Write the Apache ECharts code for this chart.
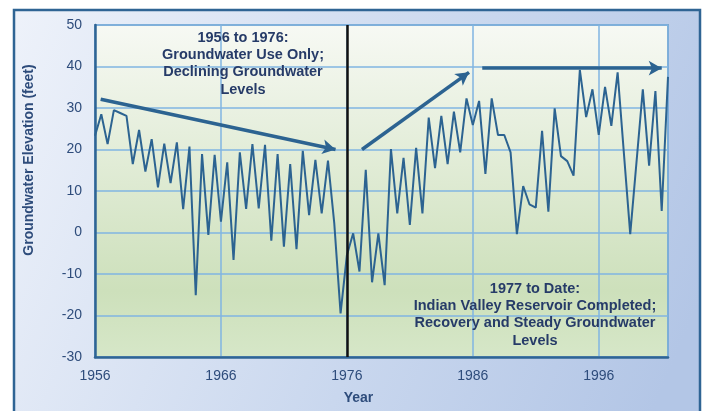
<!DOCTYPE html>
<html>
<head>
<meta charset="utf-8">
<title>Groundwater Elevation</title>
<script src="https://cdn.jsdelivr.net/npm/echarts@6/dist/echarts.min.js"></script>
<style>
	html, body {
		margin: 0;
		padding: 0;
		background: #ffffff;
	}

	#chart {
		width: 704px;
		height: 411px;
	}
</style>
</head>
<body>
<div id="chart"></div>
<script>
	// semiannual groundwater readings (feet), spring / fall, starting 1956
	const startYear = 1956;
	const levels = [
		23.3, 28.5, 21.3, 29.5, 28.8, 28.1, 16.5, 24.7, 14.7, 22.5,
		10.9, 21.4, 11.9, 21.7, 5.6, 20.7, -15.1, 18.9, -0.6, 18.7,
		2.6, 16.9, -6.6, 19.3, 5.7, 21.3, 5.8, 21.1, -2.0, 18.9,
		-3.4, 16.5, -4.0, 19.7, 4.2, 17.5, 4.6, 17.3, 2.2, -19.5,
		-5.5, -0.2, -9.4, 15.1, -12.0, -0.2, -12.7, 20.1, 4.6, 18.0,
		1.8, 20.4, 4.6, 27.7, 15.5, 28.1, 16.5, 29.1, 19.3, 32.3,
		25.9, 31.7, 14.1, 32.3, 23.5, 23.5, 19.3, -0.4, 11.2, 6.8,
		6.0, 24.5, 5.0, 29.9, 18.4, 17.2, 13.7, 39.2, 27.8, 34.5,
		23.5, 35.1, 25.7, 38.6, 19.0, -0.4, 17.0, 34.5, 16.1, 34.1,
		5.2, 37.5
	];
	// years since 1956 of each reading (two per year)
	const readingTimes = levels.map((_, i) => i / 2);

	const reservoirYear = 1976;
	// trend arrows: [fromYear, fromFeet, toYear, toFeet]
	const declineArrow = [1956.45, 32.1, 1975.1, 20.0];
	const recoveryArrow = [1977.2, 20.0, 1985.7, 38.6];
	const steadyArrow = [1986.75, 39.6, 2001.0, 39.6];

	const noteBefore = '1956 to 1976:\nGroundwater Use Only;\nDeclining Groundwater\nLevels';
	const noteAfter = '1977 to Date:\nIndian Valley Reservoir Completed;\nRecovery and Steady Groundwater\nLevels';

	const font = '"Liberation Sans", Arial, sans-serif';
	const lineBlue = '#2c6391';
	const inkBlue = '#2e4c7b';
	const noteInk = '#263b68';

	function arrow(a) {
		return [
			{ coord: [a[0] - startYear, a[1]] },
			{ coord: [a[2] - startYear, a[3]] }
		];
	}

	const chart = echarts.init(document.getElementById('chart'), null, { renderer: 'canvas' });

	const option = {
		animation: false,
		backgroundColor: '#ffffff',
		graphic: [{
				type: 'rect',
				z: -10,
				shape: { x: 14, y: 10, width: 686, height: 410 },
				style: {
					fill: {
						type: 'linear', x: 0, y: 0, x2: 1, y2: 0.7,
						colorStops: [
							{ offset: 0, color: '#eef2fa' },
							{ offset: 0.6, color: '#c9d7ee' },
							{ offset: 1, color: '#b3c6e6' }
						]
					},
					stroke: '#2f6494',
					lineWidth: 2.5
				}
			},
			{
				type: 'text',
				x: 243,
				y: 29,
				z: 10,
				style: {
					text: noteBefore,
					align: 'center',
					verticalAlign: 'top',
					lineHeight: 17.3,
					font: 'bold 14.5px ' + font,
					fill: noteInk
				}
			},
			{
				type: 'text',
				x: 535,
				y: 280,
				z: 10,
				style: {
					text: noteAfter,
					align: 'center',
					verticalAlign: 'top',
					lineHeight: 17.3,
					font: 'bold 14.5px ' + font,
					fill: noteInk
				}
			}
		],
		grid: {
			left: 95,
			right: 36,
			top: 25,
			bottom: 54,
			show: true,
			borderColor: '#5a88b4',
			borderWidth: 1.5,
			backgroundColor: {
				type: 'linear', x: 0, y: 0, x2: 0, y2: 1,
				colorStops: [
					{ offset: 0, color: '#f7f9f4' },
					{ offset: 0.8, color: '#cde0bb' },
					{ offset: 1, color: '#d6e7c8' }
				]
			}
		},
		xAxis: {
			type: 'value',
			min: 0,
			max: 45.5,
			interval: 10,
			name: 'Year',
			nameLocation: 'middle',
			nameGap: 34,
			nameTextStyle: {
				fontFamily: font,
				fontSize: 14,
				fontWeight: 'bold',
				color: inkBlue,
				padding: [0, 46, 0, 0]
			},
			axisLine: { show: true, onZero: false, lineStyle: { color: '#2f6494', width: 2.5 } },
			axisTick: { show: false },
			axisLabel: {
				fontFamily: font,
				fontSize: 14,
				color: inkBlue,
				margin: 12,
				showMaxLabel: false,
				formatter: v => (v % 10 === 0 ? String(startYear + v) : '')
			},
			splitLine: { show: true, lineStyle: { color: '#80b4e2', width: 1.5 } }
		},
		yAxis: {
			type: 'value',
			min: -30,
			max: 50,
			interval: 10,
			name: 'Groundwater Elevation (feet)',
			nameLocation: 'middle',
			nameGap: 59,
			nameTextStyle: {
				fontFamily: font,
				fontSize: 14,
				fontWeight: 'bold',
				color: inkBlue,
				padding: [0, 0, 0, 62]
			},
			axisLine: { show: true, onZero: false, lineStyle: { color: '#2f6494', width: 2.5 } },
			axisTick: { show: false },
			axisLabel: {
				fontFamily: font,
				fontSize: 14,
				color: inkBlue,
				margin: 13
			},
			splitLine: { show: true, lineStyle: { color: '#80b4e2', width: 1.5 } }
		},
		series: [{
			name: 'Groundwater Elevation',
			type: 'line',
			data: readingTimes.map((t, i) => [t, levels[i]]),
			showSymbol: false,
			symbol: 'none',
			lineStyle: { color: lineBlue, width: 2 },
			emphasis: { disabled: true },
			markLine: {
				silent: true,
				animation: false,
				label: { show: false },
				emphasis: { disabled: true },
				data: [
					[{
						xAxis: reservoirYear - startYear,
						yAxis: -30,
						symbol: 'none',
						lineStyle: { color: '#111111', width: 2.5, type: 'solid' }
					}, {
						xAxis: reservoirYear - startYear,
						yAxis: 50,
						symbol: 'none'
					}],
					arrow(declineArrow),
					arrow(recoveryArrow),
					arrow(steadyArrow)
				],
				symbol: ['none', 'arrow'],
				symbolSize: [11, 13],
				lineStyle: { color: lineBlue, width: 3.5, type: 'solid' }
			}
		}]
	};

	chart.setOption(option);
</script>
</body>
</html>
